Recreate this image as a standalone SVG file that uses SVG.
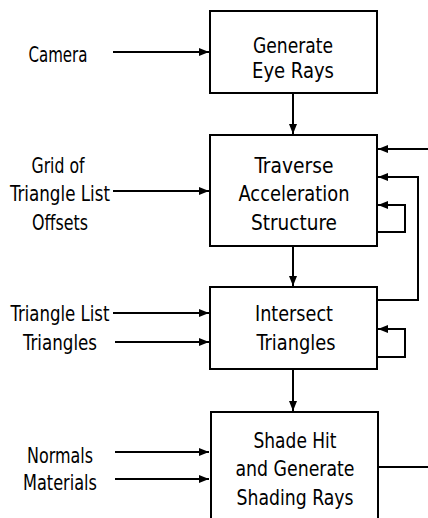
<svg xmlns="http://www.w3.org/2000/svg" width="428" height="518" viewBox="0 0 428 518">
<style>
.box{fill:#fff;stroke:#000;stroke-width:2}
.t{font-family:"DejaVu Sans Condensed","Liberation Sans Narrow",sans-serif;font-size:22px;fill:#000;text-anchor:middle;dominant-baseline:central}
.c{fill:none;stroke:#000;stroke-width:2}
</style>
<defs>
<marker id="ah" markerWidth="10" markerHeight="8" refX="10" refY="4" orient="auto" markerUnits="userSpaceOnUse">
<path d="M0,0 L10,4 L0,8 z" fill="#000"/>
</marker>
</defs>
<rect width="428" height="518" fill="#fff"/>
<g id="connectors">
<path class="c" d="M113,52 H209" marker-end="url(#ah)"/>
<path class="c" d="M293,93 V134" marker-end="url(#ah)"/>
<path class="c" d="M113,191 H209" marker-end="url(#ah)"/>
<path class="c" d="M428,149 H378" marker-end="url(#ah)"/>
<path class="c" d="M377,300 H418 V177 H378" marker-end="url(#ah)"/>
<path class="c" d="M377,232 H405 V205 H378" marker-end="url(#ah)"/>
<path class="c" d="M293,246 V286" marker-end="url(#ah)"/>
<path class="c" d="M113,313 H209" marker-end="url(#ah)"/>
<path class="c" d="M115,342 H209" marker-end="url(#ah)"/>
<path class="c" d="M377,357 H405 V329 H378" marker-end="url(#ah)"/>
<path class="c" d="M293,369 V411" marker-end="url(#ah)"/>
<path class="c" d="M115,452 H209" marker-end="url(#ah)"/>
<path class="c" d="M115,479 H209" marker-end="url(#ah)"/>
<path class="c" d="M378,467 H428"/>
</g>
<g id="generate-eye-rays">
<rect class="box" x="210" y="11" width="167" height="82"/>
<text class="t" x="293" y="45" textLength="80" lengthAdjust="spacingAndGlyphs">Generate</text>
<text class="t" x="293" y="70" textLength="82" lengthAdjust="spacingAndGlyphs">Eye Rays</text>
</g>
<g id="traverse">
<rect class="box" x="210" y="135" width="167" height="111"/>
<text class="t" x="294" y="165" textLength="79" lengthAdjust="spacingAndGlyphs">Traverse</text>
<text class="t" x="294" y="193" textLength="111" lengthAdjust="spacingAndGlyphs">Acceleration</text>
<text class="t" x="294" y="222" textLength="86" lengthAdjust="spacingAndGlyphs">Structure</text>
</g>
<g id="intersect">
<rect class="box" x="210" y="287" width="167" height="82"/>
<text class="t" x="294" y="313" textLength="78" lengthAdjust="spacingAndGlyphs">Intersect</text>
<text class="t" x="296" y="342" textLength="79" lengthAdjust="spacingAndGlyphs">Triangles</text>
</g>
<g id="shade">
<rect class="box" x="211" y="412" width="167" height="120"/>
<text class="t" x="295" y="440" textLength="83" lengthAdjust="spacingAndGlyphs">Shade Hit</text>
<text class="t" x="295" y="468" textLength="119" lengthAdjust="spacingAndGlyphs">and Generate</text>
<text class="t" x="295" y="497" textLength="117" lengthAdjust="spacingAndGlyphs">Shading Rays</text>
</g>
<g id="camera"><text class="t" x="58" y="54" textLength="59" lengthAdjust="spacingAndGlyphs">Camera</text></g>
<g id="grid">
<text class="t" x="58" y="165" textLength="53" lengthAdjust="spacingAndGlyphs">Grid of</text>
<text class="t" x="60" y="193" textLength="100" lengthAdjust="spacingAndGlyphs">Triangle List</text>
<text class="t" x="60" y="222" textLength="56" lengthAdjust="spacingAndGlyphs">Offsets</text>
</g>
<g id="tri-list"><text class="t" x="60" y="313" textLength="99" lengthAdjust="spacingAndGlyphs">Triangle List</text></g>
<g id="triangles"><text class="t" x="60" y="342" textLength="74" lengthAdjust="spacingAndGlyphs">Triangles</text></g>
<g id="normals"><text class="t" x="60" y="455" textLength="66" lengthAdjust="spacingAndGlyphs">Normals</text></g>
<g id="materials"><text class="t" x="60" y="482" textLength="74" lengthAdjust="spacingAndGlyphs">Materials</text></g>
</svg>
